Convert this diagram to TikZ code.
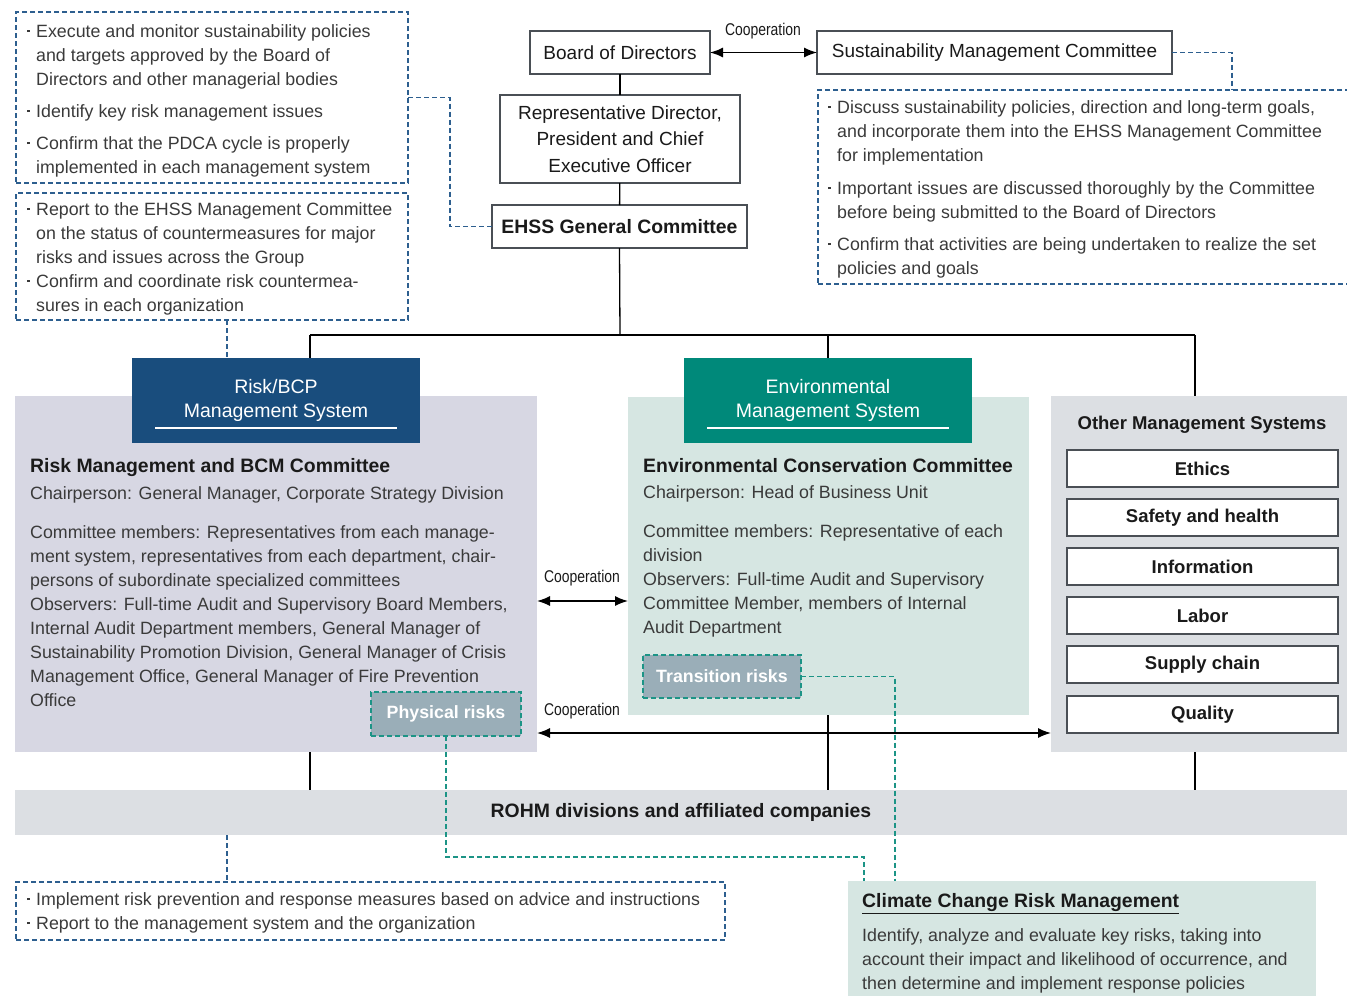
\documentclass[tikz,border=0pt]{standalone}
\usepackage{fontspec}
\setmainfont{Liberation Sans}
\usetikzlibrary{arrows.meta}

\definecolor{dashblue}{HTML}{2D5F8F}
\definecolor{tealdash}{HTML}{1C9486}
\definecolor{riskfill}{HTML}{D7D7E3}
\definecolor{envfill}{HTML}{D6E6E2}
\definecolor{grayfill}{HTML}{DCDFE3}
\definecolor{headblue}{HTML}{194D7D}
\definecolor{headteal}{HTML}{00897A}
\definecolor{badge}{HTML}{9AAEB8}
\definecolor{boxline}{HTML}{4A4F55}
\definecolor{textgray}{HTML}{3A3A3A}
\definecolor{textdark}{HTML}{1A1A1A}

\newcommand{\bodysize}{\fontsize{17.8}{24}\selectfont}
\newcommand{\bigsize}{\fontsize{19}{26.5}\selectfont}
\newcommand{\headsize}{\fontsize{19.5}{24}\selectfont}
\newcommand{\titlesize}{\fontsize{19.4}{24}\selectfont}
\newcommand{\systemsize}{\fontsize{18.5}{24}\selectfont}
\newcommand{\badgesize}{\fontsize{17.8}{24}\selectfont}
\newcommand{\coopsize}{\fontsize{17}{20}\selectfont}
% small square bullet hanging left of the text column
\newcommand{\itm}{\leavevmode\llap{\raisebox{5pt}{\rule{2.6pt}{2.6pt}}\hspace{6.5pt}}}
\newcommand{\coopword}{\scalebox{0.82}[1]{Cooperation}}

\tikzset{
  panel/.style={draw=none, inner sep=0pt, outer sep=0pt, anchor=north west},
  dashbox/.style={draw=dashblue, line width=1.6pt, dash pattern=on 5pt off 3pt,
    inner sep=0pt, outer sep=0pt, anchor=north west},
  plainbox/.style={draw=boxline, line width=1.3pt, fill=white, inner sep=0pt,
    outer sep=0pt, anchor=north west, align=center, text=textdark, font=\bigsize},
  sysbox/.style={draw=boxline, line width=1.3pt, fill=white, inner sep=0pt,
    outer sep=0pt, anchor=north west, minimum width=271, minimum height=37,
    text=textdark, font=\systemsize\bfseries},
  bodytext/.style={inner sep=0pt, anchor=north west, align=left, text=textgray, font=\bodysize},
  boldtext/.style={inner sep=0pt, anchor=base west, text=textdark, font=\titlesize\bfseries},
  header/.style={panel, minimum width=288, minimum height=85, text=white,
    font=\headsize, align=center},
  badgebox/.style={panel, fill=badge, draw=tealdash, line width=1.6pt,
    dash pattern=on 5pt off 3pt, text=white, font=\badgesize\bfseries},
  link/.style={draw=black, line width=1.3pt},
  bluelink/.style={draw=dashblue, line width=1.8pt, dash pattern=on 5pt off 3pt},
  teallink/.style={draw=tealdash, line width=1.8pt, dash pattern=on 5pt off 3pt},
  coop/.style={draw=black, line width=1.4pt,
    {Latex[length=13pt,width=10pt]}-{Latex[length=13pt,width=10pt]}},
  cooplabel/.style={inner sep=0pt, font=\coopsize, text=textdark},
  underline/.style={draw=white, line width=1.6pt}
}

\begin{document}
\begin{tikzpicture}[x=1pt,y=-1pt]
\useasboundingbox (0,0) rectangle (1347,996);

% ---------- background panels ----------
\node[panel, fill=riskfill, minimum width=522, minimum height=356] (risk) at (15,396) {};
\node[panel, fill=envfill, minimum width=401, minimum height=318] (env) at (628,397) {};
\node[panel, fill=grayfill, minimum width=296, minimum height=356] (others) at (1051,396) {};
\node[panel, fill=grayfill, minimum width=1332, minimum height=45,
      text=textdark, font=\titlesize\bfseries] (rohm) at (15,790)
      {ROHM divisions and affiliated companies};
\node[panel, fill=envfill, minimum width=468, minimum height=115] (climate) at (848,881) {};

% ---------- top governance boxes ----------
\node[plainbox, minimum width=180, minimum height=43] (bod) at (530,31) {Board of Directors};
\node[plainbox, minimum width=355, minimum height=43] (smc) at (817,31) {Sustainability Management Committee};
\node[plainbox, minimum width=240, minimum height=88] (rep) at (500,95)
  {Representative Director,\\President and Chief\\Executive Officer};
\node[plainbox, minimum width=255, minimum height=43, font=\titlesize\bfseries] (ehss) at (492,205)
  {EHSS General Committee};

% ---------- dashed notes ----------
\node[dashbox, minimum width=392, minimum height=171] (tl1) at (16,12) {};
\node[bodytext] (tl1t) at (36,24)
  {\itm Execute and monitor sustainability policies\\
   and targets approved by the Board of\\
   Directors and other managerial bodies\\[8pt]
   \itm Identify key risk management issues\\[8pt]
   \itm Confirm that the PDCA cycle is properly\\
   implemented in each management system};

\node[dashbox, minimum width=392, minimum height=127] (tl2) at (16,193) {};
\node[bodytext] (tl2t) at (36,202)
  {\itm Report to the EHSS Management Committee\\
   on the status of countermeasures for major\\
   risks and issues across the Group\\
   \itm Confirm and coordinate risk countermea-\\
   sures in each organization};

\node[dashbox, minimum width=545, minimum height=194] (smcnote) at (818,90) {};
\node[bodytext] (smcnotet) at (837,100)
  {\itm Discuss sustainability policies, direction and long-term goals,\\
   and incorporate them into the EHSS Management Committee\\
   for implementation\\[9pt]
   \itm Important issues are discussed thoroughly by the Committee\\
   before being submitted to the Board of Directors\\[8pt]
   \itm Confirm that activities are being undertaken to realize the set\\
   policies and goals};

\node[dashbox, minimum width=709, minimum height=58] (bl) at (16,882) {};
\node[bodytext] (blt) at (36,892)
  {\itm Implement risk prevention and response measures based on advice and instructions\\
   \itm Report to the management system and the organization};

% ---------- organisation lines ----------
\coordinate (busM) at (620,335);
\coordinate (busL) at (310,335);
\coordinate (busE) at (828,335);
\coordinate (busR) at (1195,335);
\draw[link] (bod) -- (rep);
\draw[link] (rep) -- (ehss);
\draw[link] (ehss.south) -- (busM);
\draw[link] (busL) -- (busR);
\draw[link] (busL) -- (busL |- 0,358);
\draw[link] (busE) -- (busE |- 0,358);
\draw[link] (busR) -- (busR |- others.north);
\draw[link] (risk.south -| busL) -- (rohm.north -| busL);
\draw[link] (env.south -| busE) -- (rohm.north -| busE);
\draw[link] (others.south -| busR) -- (rohm.north -| busR);

% ---------- management system headers ----------
\node[header, fill=headblue] (riskhead) at (132,358) {Risk/BCP\\Management System};
\draw[underline] ([xshift=23pt,yshift=15pt]riskhead.south west) -- ([xshift=-23pt,yshift=15pt]riskhead.south east);
\node[header, fill=headteal] (envhead) at (684,358) {Environmental\\Management System};
\draw[underline] ([xshift=23pt,yshift=15pt]envhead.south west) -- ([xshift=-23pt,yshift=15pt]envhead.south east);

% ---------- Risk/BCP contents ----------
\node[boldtext] (risktitle) at (30,472) {Risk Management and BCM Committee};
\node[bodytext] (riskbody) at (30,486.5)
  {Chairperson: General Manager, Corporate Strategy Division\\[15pt]
   Committee members: Representatives from each manage-\\
   ment system, representatives from each department, chair-\\
   persons of subordinate specialized committees\\
   Observers: Full-time Audit and Supervisory Board Members,\\
   Internal Audit Department members, General Manager of\\
   Sustainability Promotion Division, General Manager of Crisis\\
   Management Office, General Manager of Fire Prevention\\
   Office};
\node[badgebox, minimum width=150, minimum height=44] (phys) at (371,692) {Physical risks};

% ---------- Environmental contents ----------
\node[boldtext] (envtitle) at (643,472) {Environmental Conservation Committee};
\node[bodytext] (envbody) at (643,485.5)
  {Chairperson: Head of Business Unit\\[15pt]
   Committee members: Representative of each\\
   division\\
   Observers: Full-time Audit and Supervisory\\
   Committee Member, members of Internal\\
   Audit Department};
\node[badgebox, minimum width=158, minimum height=43] (trans) at (643,655) {Transition risks};

% ---------- other management systems ----------
\node[inner sep=0pt, text=textdark, font=\systemsize\bfseries] (othertitle) at (1202,425)
  {Other Management Systems};
\node[sysbox] (ethics) at (1067,450) {Ethics};
\node[sysbox] (safety) at (1067,499) {Safety and health};
\node[sysbox] (info)   at (1067,548) {Information};
\node[sysbox] (labor)  at (1067,597) {Labor};
\node[sysbox] (supply) at (1067,646) {Supply chain};
\node[sysbox] (quality) at (1067,696) {Quality};

% ---------- climate change risk management ----------
\node[boldtext] (cctitle) at (862,907) {Climate Change Risk Management};
\draw[draw=textdark, line width=1.3pt] ([yshift=-6.5pt]cctitle.base west) -- ([yshift=-6.5pt]cctitle.base east);
\node[bodytext] (ccbody) at (862,928)
  {Identify, analyze and evaluate key risks, taking into\\
   account their impact and likelihood of occurrence, and\\
   then determine and implement response policies};

% ---------- cooperation arrows ----------
\draw[coop] (bod.east) -- (smc.west);
\node[cooplabel] (coopA) at (763,31) {\coopword};
\coordinate (c1) at (582,601);
\draw[coop] (c1 -| risk.east) -- (c1 -| env.west);
\node[cooplabel] (coopB) at (582,578) {\coopword};
\coordinate (c2) at (582,733);
\draw[coop] (c2 -| risk.east) -- (c2 -| others.west);
\node[cooplabel] (coopC) at (582,711) {\coopword};

% ---------- dashed links ----------
\coordinate (k1) at (1232,90);
\draw[bluelink] (smc.east) -| (k1);
\coordinate (k2) at (450,150);
\draw[bluelink] (tl1.east) -| (k2) |- (ehss.west);
\coordinate (k3) at (227,320);
\draw[bluelink] (k3) -- (k3 |- riskhead.north);
\coordinate (k4) at (227,835);
\draw[bluelink] (k4) -- (k4 |- bl.north);
\coordinate (k5) at (864,857);
\draw[teallink] (phys.south) |- (k5) -- (k5 |- climate.north);
\coordinate (k6) at (895,881);
\draw[teallink] (trans.east) -| (k6);

\end{tikzpicture}
\end{document}
